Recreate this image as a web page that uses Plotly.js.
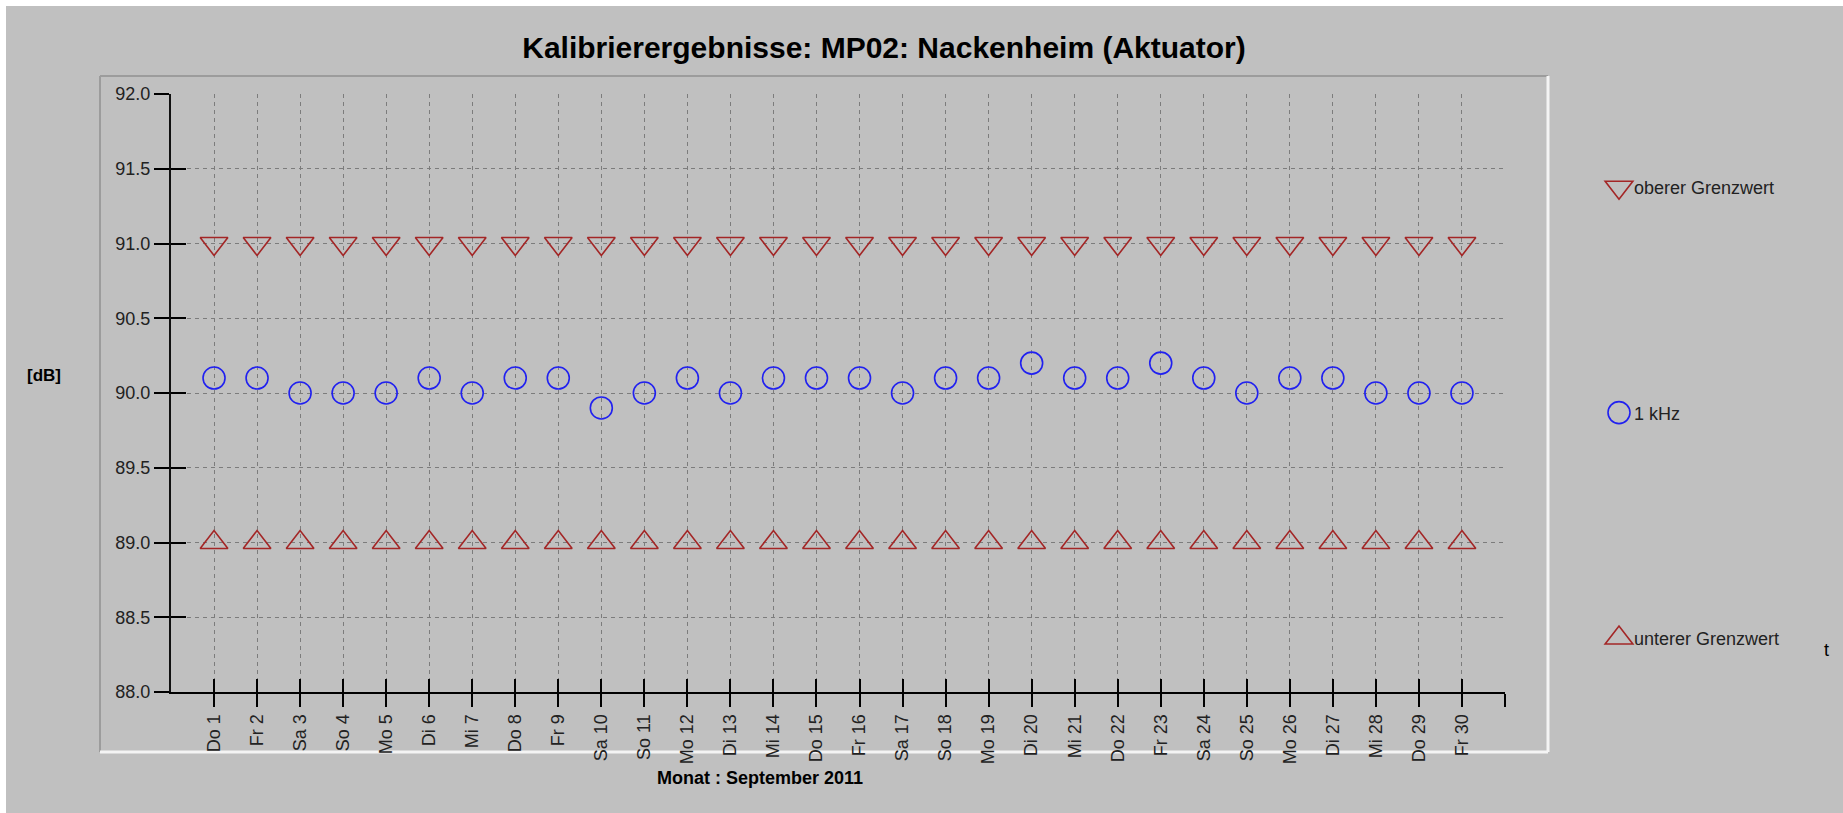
<!DOCTYPE html>
<html>
<head>
<meta charset="utf-8">
<script src="https://cdn.plot.ly/plotly-3.0.1.min.js"></script>
<style>
  html, body { margin: 0; padding: 0; background: #ffffff; width: 1843px; height: 813px; overflow: hidden; }
  #chart { position: absolute; left: 6px; top: 6px; width: 1837px; height: 807px; }
</style>
</head>
<body>
<div id="chart"></div>
<script>
// ---- data ----
const days = [1,2,3,4,5,6,7,8,9,10,11,12,13,14,15,16,17,18,19,20,21,22,23,24,25,26,27,28,29,30];
const tickLabels = ['Do 1','Fr 2','Sa 3','So 4','Mo 5','Di 6','Mi 7','Do 8','Fr 9','Sa 10',
  'So 11','Mo 12','Di 13','Mi 14','Do 15','Fr 16','Sa 17','So 18','Mo 19','Di 20',
  'Mi 21','Do 22','Fr 23','Sa 24','So 25','Mo 26','Di 27','Mi 28','Do 29','Fr 30'];
const upperLimit = [91.0,91.0,91.0,91.0,91.0,91.0,91.0,91.0,91.0,91.0,91.0,91.0,91.0,91.0,91.0,
  91.0,91.0,91.0,91.0,91.0,91.0,91.0,91.0,91.0,91.0,91.0,91.0,91.0,91.0,91.0];
const kHz1 = [90.1,90.1,90.0,90.0,90.0,90.1,90.0,90.1,90.1,89.9,90.0,90.1,90.0,90.1,90.1,
  90.1,90.0,90.1,90.1,90.2,90.1,90.1,90.2,90.1,90.0,90.1,90.1,90.0,90.0,90.0];
const lowerLimit = [89.0,89.0,89.0,89.0,89.0,89.0,89.0,89.0,89.0,89.0,89.0,89.0,89.0,89.0,89.0,
  89.0,89.0,89.0,89.0,89.0,89.0,89.0,89.0,89.0,89.0,89.0,89.0,89.0,89.0,89.0];
const xTickVals = [1,2,3,4,5,6,7,8,9,10,11,12,13,14,15,16,17,18,19,20,21,22,23,24,25,26,27,28,29,30,31];
const xTickText = tickLabels.concat(['']);
const yTickVals = [88.0,88.5,89.0,89.5,90.0,90.5,91.0,91.5,92.0];
const xRange = [0, 31];
const yRange = [88, 92];

const seriesNames = ['oberer Grenzwert', '1 kHz', 'unterer Grenzwert'];

// ---- styles ----
const RED = '#a32626';
const BLUE = '#2020f0';
const TXT = "'Liberation Sans', Arial, sans-serif";

const traces = [
  { x: days, y: upperLimit, name: seriesNames[0], type: 'scatter', mode: 'markers', legendgroup: 'g1',
    marker: { symbol: 'triangle-down-open', size: 24, color: RED, line: { width: 1.6, color: RED } } },
  { x: days, y: kHz1, name: seriesNames[1], type: 'scatter', mode: 'markers', legendgroup: 'g2',
    marker: { symbol: 'circle-open', size: 22, color: BLUE, line: { width: 1.6, color: BLUE } } },
  { x: days, y: lowerLimit, name: seriesNames[2], type: 'scatter', mode: 'markers', legendgroup: 'g3',
    marker: { symbol: 'triangle-up-open', size: 24, color: RED, line: { width: 1.6, color: RED } } },
  { x: [], y: [], xaxis: 'x2', yaxis: 'y2', showlegend: false, type: 'scatter', mode: 'markers' }
];

// pixel helpers for decoration placement (plot area 171..1505 x, 94..692 y in page px)
const PL = 171, PR = 1505, PT = 94, PB = 692;
const px = v => (v - PL) / (PR - PL);
const py = v => (PB - v) / (PB - PT);

const layout = {
  width: 1837, height: 807,
  paper_bgcolor: '#c0c0c0', plot_bgcolor: '#c0c0c0',
  margin: { l: 165, r: 338, t: 88, b: 121, pad: 0 },
  title: {
    text: 'Kalibrierergebnisse: MP02: Nackenheim (Aktuator)',
    font: { family: TXT, size: 30, color: '#000', weight: 'bold' },
    xref: 'paper', x: px(884), xanchor: 'center',
    yref: 'container', y: 1 - (47 - 6) / 807, yanchor: 'middle'
  },
  xaxis: {
    range: xRange, tickmode: 'array', tickvals: xTickVals, ticktext: xTickText,
    tickangle: -90, ticks: 'outside', ticklen: 13, tickwidth: 2, tickcolor: '#000',
    showline: true, linecolor: '#000', linewidth: 2,
    showgrid: true, gridcolor: '#7c7c7c', gridwidth: 1, griddash: '4px,4px',
    zeroline: false, tickfont: { family: TXT, size: 18, color: '#222' }, fixedrange: true
  },
  yaxis: {
    range: yRange, tickmode: 'array', tickvals: yTickVals, tickformat: '.1f',
    ticks: 'outside', ticklen: 15, tickwidth: 2, tickcolor: '#000',
    showline: true, linecolor: '#111', linewidth: 2,
    showgrid: true, gridcolor: '#7c7c7c', gridwidth: 1, griddash: '4px,4px',
    zeroline: false, tickfont: { family: TXT, size: 18, color: '#222' }, fixedrange: true
  },
  xaxis2: {
    overlaying: 'x', anchor: 'y2', range: xRange, tickmode: 'array', tickvals: xTickVals,
    ticks: 'inside', ticklen: 13, tickwidth: 2, tickcolor: '#000',
    showticklabels: false, showgrid: false, zeroline: false, showline: false, fixedrange: true
  },
  yaxis2: {
    overlaying: 'y', anchor: 'x2', side: 'left', range: yRange, tickmode: 'array', tickvals: yTickVals,
    ticks: 'inside', ticklen: 15, tickwidth: 2, tickcolor: '#000',
    showticklabels: false, showgrid: false, zeroline: false, showline: false, fixedrange: true
  },
  legend: {
    x: px(1599), y: py(169), xanchor: 'left', yanchor: 'top',
    traceorder: 'grouped', tracegroupgap: 199,
    bgcolor: 'rgba(0,0,0,0)', borderwidth: 0,
    font: { family: TXT, size: 18, color: '#222' }
  },
  annotations: [
    { text: '[dB]', xref: 'paper', yref: 'paper', x: px(44), y: py(375), showarrow: false,
      xanchor: 'center', yanchor: 'middle', font: { family: TXT, size: 17, color: '#000', weight: 'bold' } },
    { text: 'Monat : September 2011', xref: 'paper', yref: 'paper', x: px(760), y: py(778), showarrow: false,
      xanchor: 'center', yanchor: 'middle', font: { family: TXT, size: 18, color: '#000', weight: 'bold' } },
    { text: 't', xref: 'paper', yref: 'paper', x: px(1826), y: py(650), showarrow: false,
      xanchor: 'center', yanchor: 'middle', font: { family: TXT, size: 18, color: '#000' } }
  ],
  shapes: [
    { type: 'line', layer: 'below', xref: 'paper', yref: 'paper', x0: px(100), x1: px(100), y0: py(76), y1: py(752),
      line: { color: '#9c9c9c', width: 2 } },
    { type: 'line', layer: 'below', xref: 'paper', yref: 'paper', x0: px(100), x1: px(1548), y0: py(76), y1: py(76),
      line: { color: '#9c9c9c', width: 2 } },
    { type: 'line', layer: 'below', xref: 'paper', yref: 'paper', x0: px(1548), x1: px(1548), y0: py(76), y1: py(752),
      line: { color: '#f4f4f4', width: 3 } },
    { type: 'line', layer: 'below', xref: 'paper', yref: 'paper', x0: px(100), x1: px(1548), y0: py(752), y1: py(752),
      line: { color: '#f4f4f4', width: 3 } }
  ],
  showlegend: true
};

// enlarge legend symbols to match the plot markers and tighten the text gap
const legendScale = { 'oberer Grenzwert': 24 / 16, '1 kHz': 22 / 16, 'unterer Grenzwert': 24 / 16 };
function fixLegends(gd) {
  gd.querySelectorAll('g.traces').forEach(function (item) {
    const t = item.querySelector('.legendtext');
    if (!t) return;
    const s = legendScale[t.textContent.trim()] || 1.4;
    item.querySelectorAll('path.scatterpts').forEach(function (p) {
      p.setAttribute('transform', 'translate(20,0) scale(' + s + ')');
      p.setAttribute('vector-effect', 'non-scaling-stroke');
      p.style.vectorEffect = 'non-scaling-stroke';
    });
    t.setAttribute('x', '35');
  });
}

const gdEl = document.getElementById('chart');
Plotly.newPlot(gdEl, traces, layout, { staticPlot: true, displayModeBar: false }).then(function (gd) {
  fixLegends(gd);
  if (gd.on) gd.on('plotly_afterplot', function () { fixLegends(gd); });
  setTimeout(function () { fixLegends(gd); }, 0);
  setTimeout(function () { fixLegends(gd); }, 100);
  setTimeout(function () { fixLegends(gd); }, 400);
});
</script>
</body>
</html>
